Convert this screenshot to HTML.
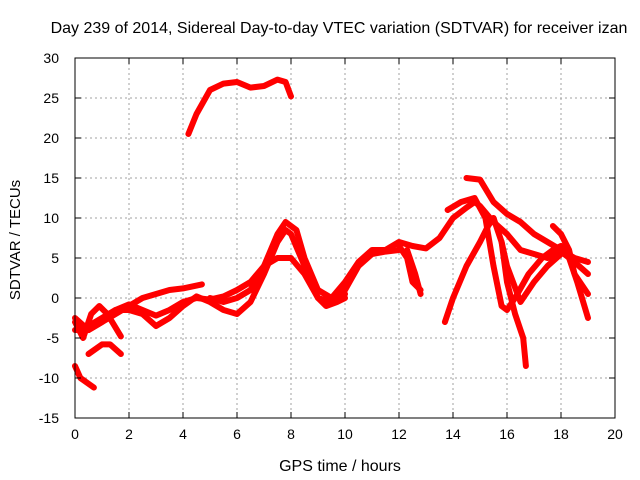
<!DOCTYPE html>
<html><head><meta charset="utf-8"><style>
body{margin:0;background:#fff}
svg{display:block;font-family:"Liberation Sans",sans-serif}
</style></head><body>
<svg id="c" width="640" height="480">
<text x="339" y="33" text-anchor="middle" font-size="16">Day 239 of 2014, Sidereal Day-to-day VTEC variation (SDTVAR) for receiver izan</text>
<text x="340" y="471" text-anchor="middle" font-size="16">GPS time / hours</text>
<text transform="translate(20,240) rotate(-90)" text-anchor="middle" font-size="15">SDTVAR / TECUs</text>
<g id="grid"></g><g id="series"></g><g id="axes"></g>
</svg>
<script>
const xTicks=[0,2,4,6,8,10,12,14,16,18,20];
const yTicks=[-15,-10,-5,0,5,10,15,20,25,30];
const track1=[[4.2,20.5],[4.5,23],[5,26],[5.5,26.8],[6,27],[6.5,26.3],[7,26.5],[7.5,27.3],[7.8,27],[8,25.2]];
const track2=[[0,-8.5],[0.2,-10],[0.7,-11.2]];
const track3=[[0,-3],[0.3,-5],[0.6,-2],[0.9,-1],[1.2,-2],[1.7,-4.8]];
const track4=[[0.5,-7],[1,-5.8],[1.3,-5.8],[1.7,-7]];
const track5=[[0,-4],[0.5,-4],[1,-3],[1.5,-2],[2,-1],[2.5,0],[3,0.5],[3.5,1],[4,1.2],[4.7,1.7]];
const track6=[[0.5,-3.5],[1,-2.5],[1.5,-1.5],[2,-0.8],[2.5,-1.5],[3,-2.2],[3.5,-1.5],[4,-0.5],[4.5,0],[5,-0.2],[5.5,0.2],[6,1],[6.5,2],[7,4],[7.5,5],[8,5],[8.5,3],[9,0],[9.5,-0.5],[10,0.5]];
const track7=[[0,-2.5],[0.5,-4],[1,-3],[1.5,-1.5],[2,-1.5],[2.5,-2],[3,-3.5],[3.5,-2.5],[4,-1],[4.5,0.2],[5,-0.5],[5.5,-1.5],[6,-2],[6.5,-0.5],[7,3],[7.5,7],[7.8,8.5],[8,8],[8.5,4],[9,0],[9.3,-1],[9.7,-0.5],[10,0]];
const track8=[[5,0],[5.5,-0.5],[6,0],[6.5,1],[7,4],[7.5,8],[7.8,9.5],[8.2,8.5],[8.5,5],[9,1],[9.5,0],[10,1],[10.5,4],[11,5.5],[11.5,5.8],[12,6]];
const track9=[[9.5,0],[10,2],[10.5,4.5],[11,6],[11.5,6],[12,7],[12.5,6.5],[13,6.2],[13.5,7.5],[14,10],[14.5,11.3],[14.8,12],[15,11.5],[15.5,9.5],[16,8],[16.5,6],[17,5.5],[17.5,5],[18,5.8],[18.5,4.5],[19,3]];
const track10=[[12.3,6],[12.6,3],[12.8,0.5]];
const track11=[[12,6.5],[12.3,5],[12.5,2],[12.8,1]];
const track12=[[13.7,-3],[14,0],[14.5,4],[15,7],[15.3,9],[15.5,10],[15.8,7],[16,2],[16.3,-2],[16.6,-5],[16.7,-8.5]];
const track13=[[14.5,15],[15,14.8],[15.5,12],[16,10.5],[16.5,9.5],[17,8],[17.5,7],[18,6],[18.5,5],[19,4.5]];
const track14=[[13.8,11],[14.3,12],[14.8,12.5],[15.2,10],[15.5,4],[15.8,-1],[16,-1.5],[16.3,0],[16.8,3],[17.3,5],[17.7,6],[18,6.5],[18.3,5],[18.6,2],[19,-2.5]];
const track15=[[15.8,7],[16,4],[16.5,-0.5],[17,2],[17.5,4],[18,5.5]];
const track16=[[17.7,9],[18,8],[18.3,6],[18.5,3],[19,0.5]];
const tracks=[track1,track2,track3,track4,track5,track6,track7,track8,track9,track10,track11,track12,track13,track14,track15,track16];
const X0=75,X1=615,Y0=418,Y1=58;
const xs=v=>X0+(v-0)/(20-0)*(X1-X0);
const ys=v=>Y0-(v+15)/(45)*(Y0-Y1);
const NS="http://www.w3.org/2000/svg";
const mk=(t,a,p)=>{const e=document.createElementNS(NS,t);for(const k in a)e.setAttribute(k,a[k]);p.appendChild(e);return e;};
const grid=document.getElementById('grid'),axes=document.getElementById('axes'),ser=document.getElementById('series');
xTicks.forEach(t=>{const x=xs(t);
 const g=mk('line',{x1:x,x2:x,y1:Y1,y2:Y0,stroke:'#a0a0a0','stroke-dasharray':'2,3'},grid);
 
 mk('line',{x1:x,x2:x,y1:Y0,y2:Y0-6,stroke:'#000'},axes);mk('line',{x1:x,x2:x,y1:Y1,y2:Y1+6,stroke:'#000'},axes);
 const l=mk('text',{x:x,y:Y0+21,'text-anchor':'middle','font-size':14},axes);l.textContent=t;
 });
yTicks.forEach(t=>{const y=ys(t);
 const g=mk('line',{x1:X0,x2:X1,y1:y,y2:y,stroke:'#a0a0a0','stroke-dasharray':'2,3'},grid);
 
 mk('line',{x1:X0,x2:X0+6,y1:y,y2:y,stroke:'#000'},axes);mk('line',{x1:X1,x2:X1-6,y1:y,y2:y,stroke:'#000'},axes);
 const l=mk('text',{x:X0-16,y:y+5,'text-anchor':'end','font-size':14},axes);l.textContent=t;
 });
const fr=mk('rect',{x:X0,y:Y1,width:X1-X0,height:Y0-Y1,fill:'none',stroke:'#000'},axes);

tracks.forEach(tr=>{
 const p=mk('polyline',{points:tr.map(d=>xs(d[0])+','+ys(d[1])).join(' '),fill:'none',stroke:'#f00','stroke-width':6,'stroke-linejoin':'round','stroke-linecap':'round'},ser);
 
 
});
</script>
</body></html>
